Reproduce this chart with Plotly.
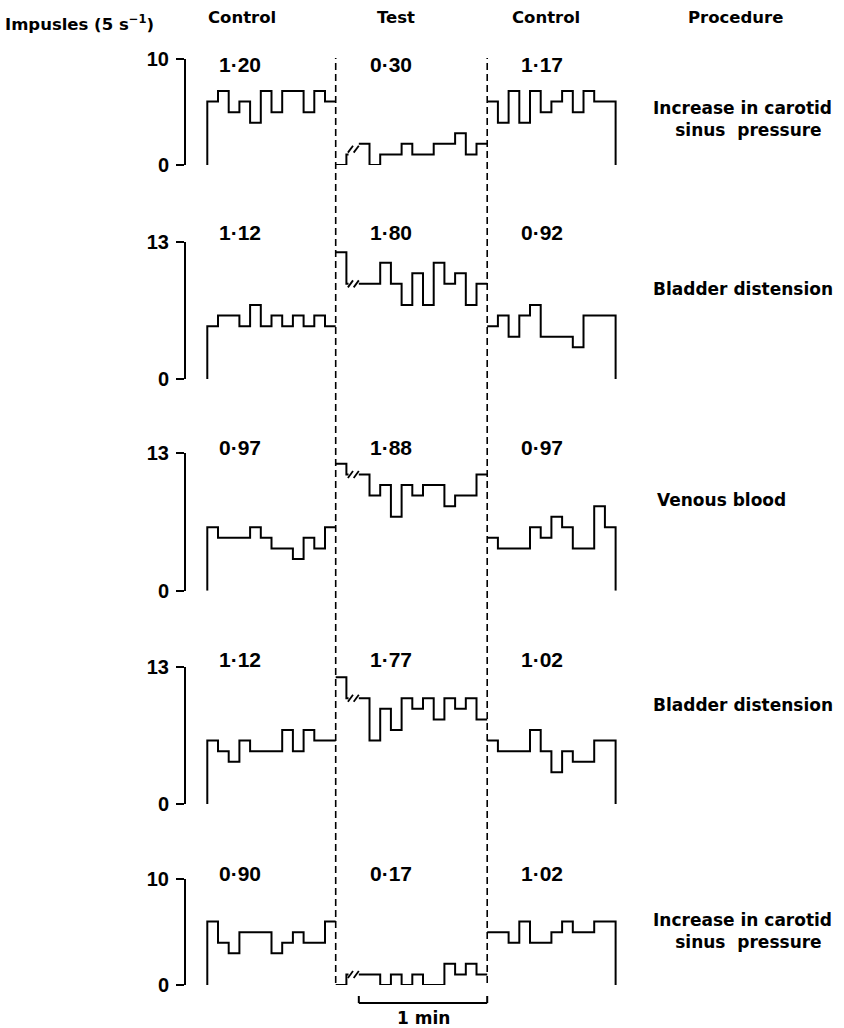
import plotly.graph_objects as go

W, H = 844, 1028
BIN = 5.0            # seconds per bin
NB = 12              # bins per period (1 min)

# ---------------- data ----------------
procedures = ["Increase in carotid<br>  sinus  pressure", "Bladder distension", "Venous blood",
              "Bladder distension", "Increase in carotid<br>  sinus  pressure"]
rate_ctrl1 = ["1·20", "1·12", "0·97", "1·12", "0·90"]
rate_test = ["0·30", "1·80", "1·88", "1·77", "0·17"]
rate_ctrl2 = ["1·17", "0·92", "0·97", "1·02", "1·02"]
y_max = [10, 13, 13, 13, 10]

ctrl1 = [
    [6, 7, 5, 6, 4, 7, 5, 7, 7, 5, 7, 6],
    [5, 6, 6, 5, 7, 5, 6, 5, 6, 5, 6, 5],
    [6, 5, 5, 5, 6, 5, 4, 4, 3, 5, 4, 6],
    [6, 5, 4, 6, 5, 5, 5, 7, 5, 7, 6, 6],
    [6, 4, 3, 5, 5, 5, 3, 4, 5, 4, 4, 6],
]
test_pre = [[0, 1], [12, 9], [12, 11], [12, 10], [0, 1]]
test_post = [
    [2, 0, 1, 1, 2, 1, 1, 2, 2, 3, 1, 2],
    [9, 9, 11, 9, 7, 10, 7, 11, 9, 10, 7, 9],
    [11, 9, 10, 7, 10, 9, 10, 10, 8, 9, 9, 11],
    [10, 6, 9, 7, 10, 9, 10, 8, 10, 9, 10, 8],
    [1, 1, 0, 1, 0, 1, 0, 0, 2, 1, 2, 1],
]
ctrl2 = [
    [6, 4, 7, 4, 7, 5, 6, 7, 5, 7, 6, 6],
    [5, 6, 4, 6, 7, 4, 4, 4, 3, 6, 6, 6],
    [5, 4, 4, 4, 6, 5, 7, 6, 4, 4, 8, 6],
    [6, 5, 5, 5, 7, 5, 3, 5, 4, 4, 6, 6],
    [5, 5, 4, 6, 4, 4, 5, 6, 5, 5, 6, 6],
]

# ---------------- geometry ----------------
T_TEST = NB * BIN                 # 60 s : first dashed line
T_POST = T_TEST + 10.8            # start of test trace after the break
T_CTRL2 = T_POST + NB * BIN       # second dashed line
PX_PER_S = 2.14
X0_PX = 207.3
x_range = [-X0_PX / PX_PER_S, (W - X0_PX) / PX_PER_S]
zero_px = [165, 379, 590.7, 804, 985]
PXU = 10.57
AXIS_X_PX = 185
label_y_px = [64.5, 232.5, 447, 659, 873.5]
label_x = [15.3, 85.8, 156.4]
proc_x_px = [742, 743, 721, 743, 742]
proc_y_px = [119, 289, 500, 705, 931]

FONT_B = "Liberation Sans"
FONT_R = "DejaVu Sans"


def steps(t0, vals, start_zero=False, end_zero=False):
    xs, ys = [], []
    if start_zero:
        xs.append(t0); ys.append(0)
    for i, v in enumerate(vals):
        xs += [t0 + i * BIN, t0 + (i + 1) * BIN]
        ys += [v, v]
    if end_zero:
        xs.append(t0 + len(vals) * BIN); ys.append(0)
    return xs, ys


fig = go.Figure()
line = dict(color="black", width=2)
annotations = []
layout_axes = {}

for p in range(5):
    yname = "y" if p == 0 else f"y{p+1}"
    axkey = "yaxis" if p == 0 else f"yaxis{p+1}"
    # left control
    xs, ys = steps(0, ctrl1[p], start_zero=True)
    fig.add_trace(go.Scatter(x=xs, y=ys, mode="lines", line=line, xaxis="x", yaxis=yname, hoverinfo="skip"))
    # test: pre-break piece
    v1, v2 = test_pre[p]
    xs = [T_TEST, T_TEST + BIN, T_TEST + BIN, T_TEST + BIN + 1.0]
    ys = [v1, v1, v2, v2]
    fig.add_trace(go.Scatter(x=xs, y=ys, mode="lines", line=line, xaxis="x", yaxis=yname, hoverinfo="skip"))
    # break marks //
    lvl = (v2 + test_post[p][0]) / 2
    sx, sy = [], []
    for c in (T_TEST + BIN + 1.9, T_TEST + BIN + 4.6):
        sx += [c - 1.2, c + 1.2, None]
        sy += [lvl - 0.33, lvl + 0.33, None]
    fig.add_trace(go.Scatter(x=sx, y=sy, mode="lines", line=dict(color="black", width=1.8),
                             xaxis="x", yaxis=yname, hoverinfo="skip"))
    # test: after the break
    xs, ys = steps(T_POST, test_post[p])
    fig.add_trace(go.Scatter(x=xs, y=ys, mode="lines", line=line, xaxis="x", yaxis=yname, hoverinfo="skip"))
    # right control
    xs, ys = steps(T_CTRL2, ctrl2[p], end_zero=True)
    fig.add_trace(go.Scatter(x=xs, y=ys, mode="lines", line=line, xaxis="x", yaxis=yname, hoverinfo="skip"))

    top_px = zero_px[p] - y_max[p] * PXU
    layout_axes[axkey] = dict(
        domain=[1 - zero_px[p] / H, 1 - top_px / H], range=[0, y_max[p]],
        anchor="free", position=AXIS_X_PX / W,
        showline=True, linewidth=2, linecolor="black",
        ticks="outside", ticklen=8, tickwidth=2, tickcolor="black",
        tickvals=[0, y_max[p]], ticktext=[f"<b>{0}</b>", f"<b>{y_max[p]}</b>"],
        tickfont=dict(family=FONT_B, size=20, color="black"),
        ticklabelstandoff=3,
        showgrid=False, zeroline=False, fixedrange=True,
    )
    for lx, txt in zip(label_x, (rate_ctrl1[p], rate_test[p], rate_ctrl2[p])):
        annotations.append(dict(x=lx, y=1 - label_y_px[p] / H, xref="x", yref="paper", text=f"<b>{txt}</b>",
                                showarrow=False, font=dict(family=FONT_B, size=21, color="black"),
                                xanchor="center", yanchor="middle"))
    # procedure label
    annotations.append(dict(x=proc_x_px[p] / W, y=1 - proc_y_px[p] / H, xref="paper", yref="paper",
                            text=f"<b>{procedures[p]}</b>", showarrow=False, align="center",
                            font=dict(family=FONT_R, size=17, color="black"),
                            xanchor="center", yanchor="middle"))

# headers
headers = [("Impusles (5 s<sup>−1</sup>)", 3, 23, "left"), ("Control", 241.5, 17, "center"),
           ("Test", 396, 17, "center"), ("Control", 546, 17, "center"),
           ("Procedure", 735.5, 17, "center")]
for txt, xp, yp, anc in headers:
    annotations.append(dict(x=xp / W, y=1 - yp / H, xref="paper", yref="paper", text=f"<b>{txt}</b>",
                            showarrow=False, font=dict(family=FONT_R, size=16.5, color="black"),
                            xanchor=anc, yanchor="middle"))

# scale bar label
annotations.append(dict(x=(T_POST + T_CTRL2) / 2, y=1 - 1018 / H, xref="x", yref="paper",
                        text="<b>1 min</b>", showarrow=False, font=dict(family=FONT_R, size=17, color="black"),
                        xanchor="center", yanchor="middle"))

shapes = []
for tx in (T_TEST, T_CTRL2):
    shapes.append(dict(type="line", xref="x", yref="paper", x0=tx, x1=tx,
                       y0=1 - 983 / H, y1=1 - 58 / H,
                       line=dict(color="black", width=1.6, dash="7px,4px")))
bar_y = 1 - 1003 / H
tick_y = 1 - 996 / H
shapes.append(dict(type="line", xref="x", yref="paper", x0=T_POST, x1=T_CTRL2, y0=bar_y, y1=bar_y,
                   line=dict(color="black", width=2)))
for tx in (T_POST, T_CTRL2):
    shapes.append(dict(type="line", xref="x", yref="paper", x0=tx, x1=tx, y0=bar_y, y1=tick_y,
                       line=dict(color="black", width=2)))

fig.update_layout(
    width=W, height=H, margin=dict(l=0, r=0, t=0, b=0),
    paper_bgcolor="white", plot_bgcolor="white", showlegend=False,
    template="none",
    xaxis=dict(domain=[0, 1], range=x_range, visible=False, fixedrange=True),
    annotations=annotations, shapes=shapes,
    **layout_axes,
)
fig.write_html("out.html")
